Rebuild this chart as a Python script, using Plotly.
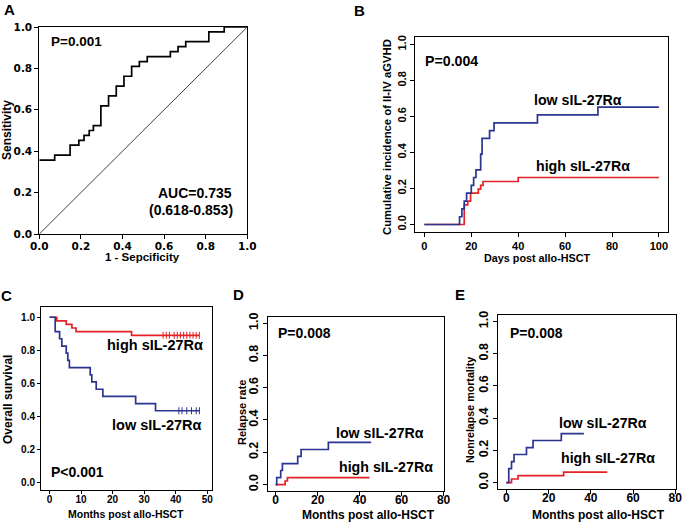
import plotly.graph_objects as go

W, H = 685, 524
BLUE = "#2a3591"
RED = "#e42226"
FONT = "Liberation Sans, Arial, sans-serif"

# ---------------- data ----------------
# A: ROC curve
roc_fpr = [0.0, 0.074, 0.148, 0.19, 0.215, 0.24, 0.26, 0.296, 0.333, 0.37, 0.407,
           0.444, 0.481, 0.519, 0.63, 0.667, 0.704, 0.815, 0.889, 1.0]
roc_tpr = [0.357, 0.381, 0.429, 0.452, 0.476, 0.5, 0.524, 0.619, 0.667, 0.714, 0.762,
           0.81, 0.833, 0.857, 0.881, 0.905, 0.929, 0.976, 1.0, 1.0]

# B: cumulative incidence of II-IV aGVHD (days)
b_low_t = [0, 15, 16, 17, 18, 20, 21, 22, 24, 24.6, 27.8, 29.7, 48.2, 74, 100]
b_low_y = [0, 0.043, 0.087, 0.13, 0.174, 0.217, 0.261, 0.304, 0.391, 0.478, 0.522,
           0.565, 0.609, 0.652, 0.652]
b_high_t = [0, 17, 18.5, 19.7, 23, 24, 25, 40, 100]
b_high_y = [0, 0.109, 0.13, 0.174, 0.196, 0.217, 0.239, 0.261, 0.261]

# C: overall survival (months)
c_low_t = [0, 1.8, 3.2, 3.9, 5.3, 5.8, 6.3, 12.9, 13.4, 14.8, 16.9, 27.3, 33.6, 47.5]
c_low_y = [1, 0.913, 0.87, 0.826, 0.783, 0.739, 0.696, 0.652, 0.609, 0.565, 0.522,
           0.478, 0.435, 0.435]
c_high_t = [0, 2.3, 5.3, 7.1, 8.4, 26, 47.5]
c_high_y = [1, 0.978, 0.957, 0.935, 0.913, 0.891, 0.891]
c_low_cens = [41, 42, 43.5, 45, 46.5, 47.5]
c_high_cens = [36, 37, 38, 39.5, 40.5, 41.5, 42.5, 43.5, 44.5, 45.5, 46.5, 47.5]

# D: relapse rate (months)
d_low_t = [0, 0.5, 2.4, 3.2, 10.5, 12.1, 25.1, 45.5]
d_low_y = [0, 0.043, 0.087, 0.13, 0.174, 0.217, 0.261, 0.261]
d_high_t = [0, 4.5, 5.6, 44.7]
d_high_y = [0, 0.022, 0.043, 0.043]

# E: nonrelapse mortality (months)
e_low_t = [0, 1.1, 2.4, 3.6, 9.5, 12.6, 26, 36.7]
e_low_y = [0, 0.087, 0.13, 0.174, 0.217, 0.261, 0.304, 0.304]
e_high_t = [0, 2.4, 5.5, 27.1, 47.8]
e_high_y = [0, 0.022, 0.043, 0.065, 0.065]

tick01 = [0, 0.2, 0.4, 0.6, 0.8, 1.0]
tick01_txt = ["0.0", "0.2", "0.4", "0.6", "0.8", "1.0"]
ticks_b = [0, 20, 40, 60, 80, 100]
ticks_c = [0, 10, 20, 30, 40, 50]
ticks_de = [0, 20, 40, 60, 80]

# ---------------- figure ----------------
fig = go.Figure()

def px_dom(x0, x1):
    return [x0 / W, x1 / W]

def py_dom(ytop, ybot):
    return [1 - ybot / H, 1 - ytop / H]

def step(x, y, color, xa, ya, width=1.7):
    fig.add_trace(go.Scatter(x=x, y=y, mode="lines", line=dict(color=color, width=width, shape="hv"),
                             xaxis=xa, yaxis=ya, showlegend=False, hoverinfo="skip"))

# A
step(roc_fpr, roc_tpr, "black", "x", "y", 1.7)
fig.add_trace(go.Scatter(x=[0, 1], y=[0, 1], mode="lines", line=dict(color="#444", width=1),
                         xaxis="x", yaxis="y", showlegend=False, hoverinfo="skip"))
# B
step(b_high_t, b_high_y, RED, "x2", "y2")
step(b_low_t, b_low_y, BLUE, "x2", "y2")
# C
step(c_high_t, c_high_y, RED, "x3", "y3")
step(c_low_t, c_low_y, BLUE, "x3", "y3")
fig.add_trace(go.Scatter(x=c_high_cens, y=[c_high_y[-1]] * len(c_high_cens), mode="markers",
                         marker=dict(symbol="line-ns", size=5, line=dict(color=RED, width=1)),
                         xaxis="x3", yaxis="y3", showlegend=False, hoverinfo="skip"))
fig.add_trace(go.Scatter(x=c_low_cens, y=[c_low_y[-1]] * len(c_low_cens), mode="markers",
                         marker=dict(symbol="line-ns", size=5, line=dict(color=BLUE, width=1)),
                         xaxis="x3", yaxis="y3", showlegend=False, hoverinfo="skip"))
# D
step(d_high_t, d_high_y, RED, "x4", "y4")
step(d_low_t, d_low_y, BLUE, "x4", "y4")
# E
step(e_high_t, e_high_y, RED, "x5", "y5")
step(e_low_t, e_low_y, BLUE, "x5", "y5")

def axis(domain, rng, tickvals, ticktext, anchor, size, family=FONT, ticklen=4, angle=0, standoff=0):
    return dict(domain=domain, range=rng, anchor=anchor, tickvals=tickvals,
                ticktext=["<b>%s</b>" % t for t in ticktext],
                showline=True, linecolor="black", linewidth=1, mirror=True, ticks="outside",
                ticklen=ticklen, tickwidth=1, tickcolor="black", showgrid=False, zeroline=False,
                tickangle=angle, automargin=False, ticklabelstandoff=standoff,
                tickfont=dict(family=family, size=size, color="black"),
                fixedrange=True)

DJ = "DejaVu Sans"
fig.update_layout(
    xaxis=axis(px_dom(39.3, 247.3), [0, 1], tick01, tick01_txt, "y", 10.5, DJ, standoff=-2),
    yaxis=axis(py_dom(27, 234), [0, 1], tick01, tick01_txt, "x", 10.5, DJ),
    xaxis2=axis(px_dom(415, 668.3), [-4, 104], ticks_b, [str(v) for v in ticks_b], "y2", 11),
    yaxis2=axis(py_dom(37.3, 231.7), [-0.04, 1.04], tick01, tick01_txt, "x2", 11, angle=-90),
    xaxis3=axis(px_dom(41, 212), [-2.7, 51.5], ticks_c, [str(v) for v in ticks_c], "y3", 10,
                ticklen=3, standoff=-3),
    yaxis3=axis(py_dom(307, 490), [-0.044, 1.062], tick01, tick01_txt, "x3", 10, ticklen=3),
    xaxis4=axis(px_dom(267.7, 444), [-3.8, 80.2], ticks_de, [str(v) for v in ticks_de], "y4", 12,
                standoff=-6),
    yaxis4=axis(py_dom(316.7, 491), [-0.04, 1.04], tick01, tick01_txt, "x4", 12.5, angle=-90),
    xaxis5=axis(px_dom(498, 675.7), [-4, 80.2], ticks_de, [str(v) for v in ticks_de], "y5", 12,
                standoff=-6),
    yaxis5=axis(py_dom(315, 489), [-0.04, 1.04], tick01, tick01_txt, "x5", 12.5, angle=-90),
)

annots = []
def txt(s, x, y, size, xanchor="center", rot=0):
    annots.append(dict(text="<b>%s</b>" % s, x=x / W, y=1 - y / H, xref="paper", yref="paper",
                       xanchor=xanchor, yanchor="middle", textangle=rot, showarrow=False,
                       font=dict(family=FONT, size=size, color="black")))

# panel letters
txt("A", 9, 10, 15)
txt("B", 359, 11, 15)
txt("C", 6, 295, 15)
txt("D", 238, 294, 15)
txt("E", 460, 294, 15)

# A
txt("Sensitivity", 7, 130, 12, rot=-90)
txt("1 - Sepcificity", 142.5, 257, 11.5)
txt("P=0.001", 49, 42, 13.5, xanchor="left")
txt("AUC=0.735", 194.7, 193.3, 14)
txt("(0.618-0.853)", 191, 210, 14)

# B
txt("Cumulative incidence of II-IV aGVHD", 387, 137, 11.3, rot=-90)
txt("Days post allo-HSCT", 537, 258, 10.8)
txt("P=0.004", 423, 61, 14.2, xanchor="left")
txt("low sIL-27Rα", 578, 100, 14.2)
txt("high sIL-27Rα", 583, 166, 14.2)

# C
txt("Overall survival", 8, 400, 12, rot=-90)
txt("Months post allo-HSCT", 126, 514, 10.5)
txt("high sIL-27Rα", 155, 345, 14.5)
txt("low sIL-27Rα", 157, 425, 14.5)
txt("P<0.001", 49, 472, 14, xanchor="left")

# D
txt("Relapse rate", 242, 413, 11, rot=-90)
txt("Months post allo-HSCT", 368.5, 515, 12)
txt("P=0.008", 276, 333, 14, xanchor="left")
txt("low sIL-27Rα", 380, 433, 14.2)
txt("high sIL-27Rα", 386, 467, 14.2)

# E
txt("Nonrelapse mortality", 470, 410, 10.7, rot=-90)
txt("Months post allo-HSCT", 598.7, 515, 12)
txt("P=0.008", 508, 333, 14, xanchor="left")
txt("low sIL-27Rα", 602.7, 423, 14.2)
txt("high sIL-27Rα", 607.7, 458, 14.2)

fig.update_layout(annotations=annots, width=W, height=H,
                  margin=dict(l=0, r=0, t=0, b=0, pad=0, autoexpand=False),
                  paper_bgcolor="white", plot_bgcolor="white", showlegend=False)

fig.write_html("out.html", config={"displayModeBar": False},
               post_script="document.body.style.margin='0';document.body.style.padding='0';"
                           "document.body.style.overflow='hidden';")
